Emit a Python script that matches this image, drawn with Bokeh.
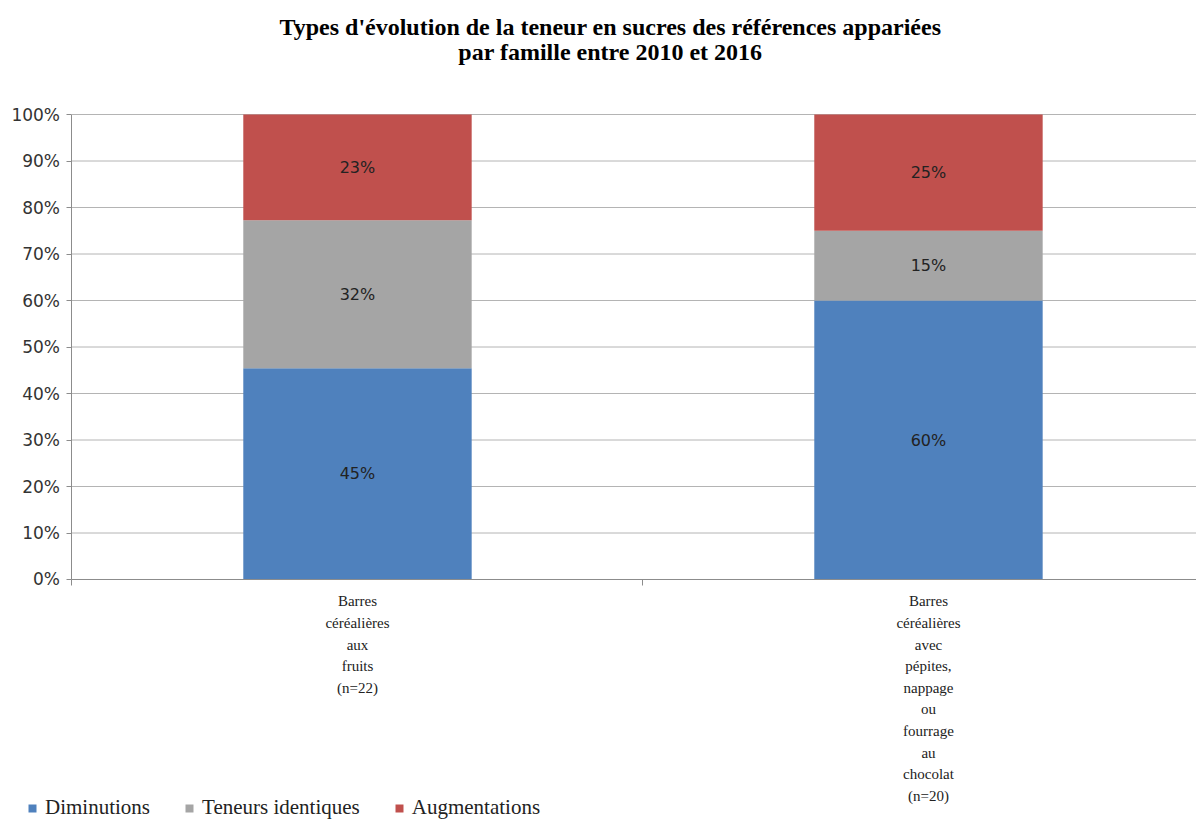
from bokeh.plotting import figure
from bokeh.models import (ColumnDataSource, FixedTicker, NumeralTickFormatter, Legend,
                          LegendItem, Range1d, LabelSet, Label)
from bokeh.core.properties import value
from bokeh.embed import file_html
from bokeh.resources import INLINE

categories = ["Barres\ncéréalières\naux\nfruits\n(n=22)",
              "Barres\ncéréalières\navec\npépites,\nnappage\nou\nfourrage\nau\nchocolat\n(n=20)"]
series = ["Diminutions", "Teneurs identiques", "Augmentations"]
diminutions = [0.4545, 0.60]
identiques = [0.3182, 0.15]
augmentations = [0.2273, 0.25]
labels_dim = ["45%", "60%"]
labels_ide = ["32%", "15%"]
labels_aug = ["23%", "25%"]
y_ticks = [0.0, 0.1, 0.2, 0.3, 0.4, 0.5, 0.6, 0.7, 0.8, 0.9, 1.0]
colors = ["#4F81BD", "#A5A5A5", "#C0504D"]
title_lines = ["Types d'évolution de la teneur en sucres des références appariées",
               "par famille entre 2010 et 2016"]

x = list(range(len(categories)))
b1 = [0.0] * len(x)
t1 = [b + v for b, v in zip(b1, diminutions)]
t2 = [b + v for b, v in zip(t1, identiques)]
t3 = [b + v for b, v in zip(t2, augmentations)]

src = ColumnDataSource(dict(
    x=x, b1=b1, t1=t1, t2=t2, t3=t3,
    m1=[(a + b) / 2 for a, b in zip(b1, t1)],
    m2=[(a + b) / 2 for a, b in zip(t1, t2)],
    m3=[(a + b) / 2 for a, b in zip(t2, t3)],
    l1=labels_dim, l2=labels_ide, l3=labels_aug,
))

X_START, X_END = -0.6252, 1.4694
Y_START, Y_END = -0.5183, 1.2452
left_edge = x[0] - 0.5

p = figure(width=1196, height=820, output_backend="svg", toolbar_location=None,
           x_range=Range1d(X_START, X_END), y_range=Range1d(Y_START, Y_END),
           min_border_left=0, min_border_right=0, min_border_top=0, min_border_bottom=0)
p.outline_line_color = None
p.background_fill_color = "white"
p.border_fill_color = "white"
p.xgrid.grid_line_color = None
p.ygrid.grid_line_color = None

# horizontal gridlines from the y ticks, starting at the value axis
p.segment(x0=[left_edge] * len(y_ticks), x1=[X_END] * len(y_ticks), y0=y_ticks, y1=y_ticks,
          line_color="#b4b4b4", line_width=1)

w = 0.4
r1 = p.vbar(x="x", bottom="b1", top="t1", width=w, source=src, fill_color=colors[0], line_color=None)
r2 = p.vbar(x="x", bottom="t1", top="t2", width=w, source=src, fill_color=colors[1], line_color=None)
r3 = p.vbar(x="x", bottom="t2", top="t3", width=w, source=src, fill_color=colors[2], line_color=None)

for m, l in (("m1", "l1"), ("m2", "l2"), ("m3", "l3")):
    ls = LabelSet(x="x", y=m, text=l, source=src, text_align="center", text_baseline="middle",
                  text_font=value("DejaVu Sans"), text_font_size=value("16px"),
                  text_color="#222222")
    p.add_layout(ls)

# title
for txt, ty in zip(title_lines, (1.189, 1.135)):
    p.add_layout(Label(x=0.443, y=ty, text=txt, text_align="center", text_baseline="middle",
                       text_font="Liberation Serif", text_font_size="24px",
                       text_font_style="bold", text_color="#000000"))

# y axis
p.yaxis.fixed_location = left_edge
p.yaxis.bounds = (y_ticks[0], y_ticks[-1])
p.yaxis.ticker = FixedTicker(ticks=y_ticks)
p.yaxis.formatter = NumeralTickFormatter(format="0%")
p.yaxis.axis_line_color = "#8c8c8c"
p.yaxis.major_tick_line_color = "#8c8c8c"
p.yaxis.major_tick_out = 5
p.yaxis.major_tick_in = 0
p.yaxis.minor_tick_line_color = None
p.yaxis.major_label_standoff = 7
p.yaxis.major_label_text_font = "DejaVu Sans"
p.yaxis.major_label_text_font_size = "17px"
p.yaxis.major_label_text_color = "#333333"

# x axis
p.xaxis.fixed_location = 0
p.xaxis.bounds = (left_edge, x[-1] + 0.5)
p.xaxis.ticker = FixedTicker(ticks=x, minor_ticks=[i - 0.5 for i in x] + [x[-1] + 0.5])
p.xaxis.major_label_overrides = {i: c for i, c in zip(x, categories)}
p.xaxis.axis_line_color = "#8c8c8c"
p.xaxis.major_tick_line_color = None
p.xaxis.major_tick_out = 0
p.xaxis.major_tick_in = 0
p.xaxis.minor_tick_line_color = "#8c8c8c"
p.xaxis.minor_tick_out = 6
p.xaxis.minor_tick_in = 0
p.xaxis.major_label_standoff = 8
p.xaxis.major_label_text_font = "Liberation Serif"
p.xaxis.major_label_text_font_size = "15px"
p.xaxis.major_label_text_line_height = 1.35
p.xaxis.major_label_text_color = "#222222"

legend = Legend(items=[LegendItem(label=series[0], renderers=[r1]),
                       LegendItem(label=series[1], renderers=[r2]),
                       LegendItem(label=series[2], renderers=[r3])],
                orientation="horizontal", location=(27, 0),
                glyph_width=10, glyph_height=10, label_standoff=8, spacing=34,
                padding=0, margin=0, border_line_color=None, background_fill_alpha=0,
                label_text_font="serif", label_text_font_size="21px",
                label_text_color="#222222")
p.add_layout(legend, "center")

open("out.html", "w").write(file_html(p, INLINE))
